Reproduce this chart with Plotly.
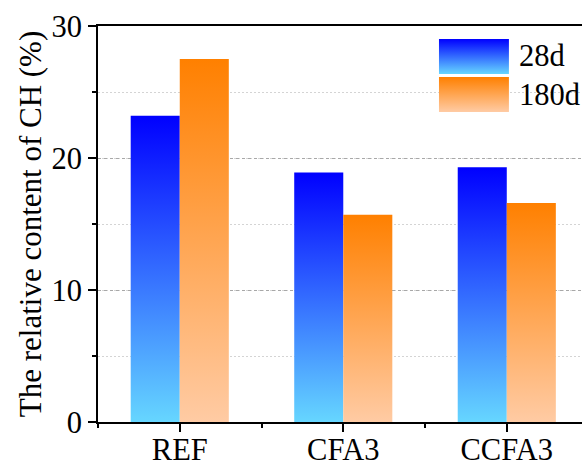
import plotly.graph_objects as go

# ---- data ----
categories = ["REF", "CFA3", "CCFA3"]
series_names = ["28d", "180d"]
values_28d = [23.2, 18.9, 19.3]
values_180d = [27.5, 15.7, 16.6]
y_ticks = [0, 10, 20, 30]
y_title = "The relative content of CH (%)"

# ---- styles ----
FONT = "Liberation Serif, Times New Roman, serif"
BLUE = [[0, "rgb(102,214,255)"], [1, "rgb(0,0,255)"]]
ORANGE = [[0, "rgb(255,203,164)"], [1, "rgb(255,128,0)"]]
BAR_W = 0.3

fig = go.Figure()

def add_bar(x0, x1, v, cs):
    fig.add_trace(go.Scatter(
        x=[x0, x0, x1, x1, x0], y=[0, v, v, 0, 0],
        mode="lines", fill="toself", line=dict(width=0),
        fillgradient=dict(type="vertical", colorscale=cs, start=0, stop=v),
        hoverinfo="skip", showlegend=False))

for i, cat in enumerate(categories):
    add_bar(i - BAR_W, i, values_28d[i], BLUE)
    add_bar(i, i + BAR_W, values_180d[i], ORANGE)

# ---- custom legend with gradient swatches (overlay axis in paper units) ----
leg_x0, leg_x1 = 0.7045, 0.849
leg_rows = [(0.879, 0.967), (0.783, 0.871)]
for (yb, yt), cs, name in zip(leg_rows, [BLUE, ORANGE], series_names):
    fig.add_trace(go.Scatter(
        x=[leg_x0, leg_x0, leg_x1, leg_x1, leg_x0], y=[yb, yt, yt, yb, yb],
        xaxis="x2", yaxis="y2",
        mode="lines", fill="toself", line=dict(width=0),
        fillgradient=dict(type="vertical", colorscale=cs, start=yb, stop=yt),
        hoverinfo="skip", showlegend=False))
    fig.add_annotation(x=0.866, y=(yb + yt) / 2, xref="paper", yref="paper",
                       text=name, showarrow=False, xanchor="left", yanchor="middle",
                       font=dict(family=FONT, size=30.5, color="black"))

# y-axis title as rotated annotation (precise placement)
fig.add_annotation(x=-0.14, y=0.5, xref="paper", yref="paper", text=y_title,
                   textangle=-90, showarrow=False, xanchor="center", yanchor="middle",
                   font=dict(family=FONT, size=31, color="black"))

fig.update_layout(
    width=582, height=466,
    margin=dict(l=98, r=0, t=26, b=44),
    plot_bgcolor="white", paper_bgcolor="white",
    font=dict(family=FONT, size=30.5, color="black"),
    xaxis=dict(
        range=[-0.5, 2.46], tickmode="array", tickvals=list(range(len(categories))),
        ticktext=categories, showgrid=False, zeroline=False, automargin=False,
        showline=True, linecolor="black", linewidth=2, mirror=True,
        ticks="outside", ticklen=8, tickwidth=2, tickcolor="black",
        ticklabelstandoff=-9,
        minor=dict(tickmode="array", tickvals=[-0.5, 0.5, 1.5], ticks="outside",
                   ticklen=4, tickwidth=2, tickcolor="black", showgrid=False),
        tickfont=dict(family=FONT, size=30.5),
    ),
    yaxis=dict(
        range=[0, 30], tickmode="array", tickvals=y_ticks, automargin=False,
        showgrid=True, gridcolor="#a8a8a8", griddash="3px,3px", gridwidth=1,
        zeroline=False, showline=True, linecolor="black", linewidth=2, mirror=False,
        ticks="outside", ticklen=8, tickwidth=2, tickcolor="black",
        minor=dict(dtick=5, tick0=0, ticks="outside", ticklen=4, tickwidth=2,
                   tickcolor="black", showgrid=True, gridcolor="#d4d4d4",
                   griddash="2px,2px", gridwidth=1),
        tickfont=dict(family=FONT, size=30.5),
    ),
    xaxis2=dict(overlaying="x", range=[0, 1], visible=False, fixedrange=True),
    yaxis2=dict(overlaying="y", range=[0, 1], visible=False, fixedrange=True),
)

fig.write_html("out.html")
